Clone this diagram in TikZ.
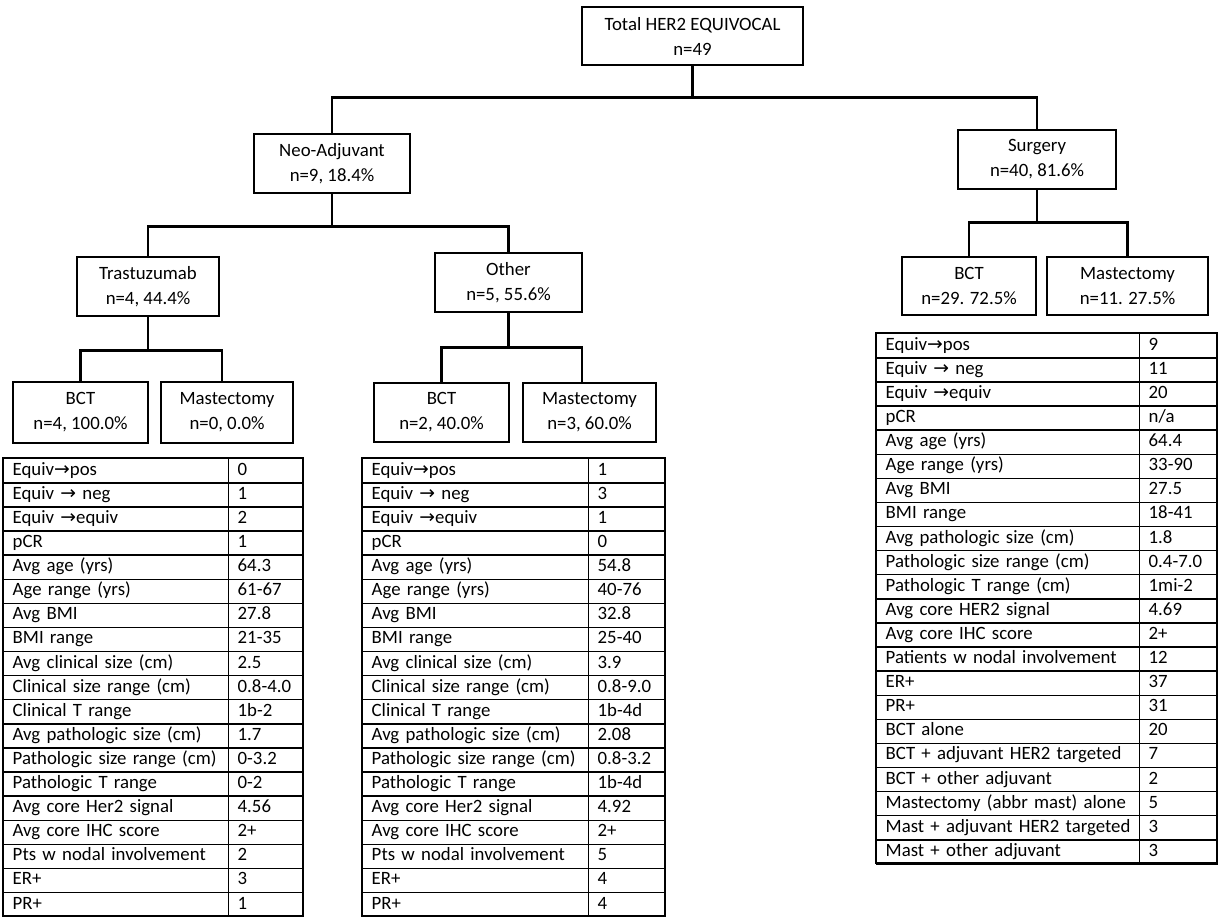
\documentclass[tikz,border=0pt]{standalone}
\usepackage{fontspec}
\setmainfont{Carlito}
\newfontfamily\arrowfont{DejaVu Sans}
\newcommand\arr{{\arrowfont →}}

% one data table: name, left x, divider x, right x, top y, number of rows, rows
\newcommand\datatable[7]{%
  \pgfmathsetmacro\wa{#3-#2-18}%
  \pgfmathsetmacro\wb{#4-#3-18}%
  \foreach \lab/\val [count=\i] in {#7}{%
    \node[cell, text width=\wa pt] (#1-\i-a) at (#2, {#5+(\i-1)*24.1}) {\lab};
    \node[cell, text width=\wb pt] (#1-\i-b) at (#3, {#5+(\i-1)*24.1}) {\val};
  }
  \draw[line width=2pt] (#2,#5) rectangle (#4, {#5+#6*24.1});
}

\begin{document}
\begin{tikzpicture}[x=1pt,y=-1pt,
  font=\fontsize{18.8}{25}\selectfont,
  box/.style={draw, line width=1.5pt, align=center, inner sep=0pt},
  conn/.style={line width=2.6pt},
  cell/.style={draw, line width=1.4pt, anchor=north west, minimum height=24.1pt,
    inner xsep=9pt, inner ysep=0pt, text height=13pt, text depth=4pt, align=left}]
\useasboundingbox (0,0) rectangle (1225,918);

% tree boxes
\node[box, minimum width=221pt, minimum height=58pt] (total) at (692.5,36) {Total HER2 EQUIVOCAL\\n=49};
\node[box, minimum width=156pt, minimum height=59pt] (neo) at (332,163.5) {Neo-Adjuvant\\n=9, 18.4\%};
\node[box, minimum width=158pt, minimum height=59pt] (surg) at (1037,159.5) {Surgery\\n=40, 81.6\%};
\node[box, minimum width=142pt, minimum height=59pt] (trast) at (148,286.5) {Trastuzumab\\n=4, 44.4\%};
\node[box, minimum width=147pt, minimum height=59pt] (other) at (508.5,282.5) {Other\\n=5, 55.6\%};
\node[box, minimum width=135pt, minimum height=61pt] (lbct) at (80.5,412.5) {BCT\\n=4, 100.0\%};
\node[box, minimum width=132pt, minimum height=61pt] (lmast) at (227,412.5) {Mastectomy\\n=0, 0.0\%};
\node[box, minimum width=135pt, minimum height=59pt] (cbct) at (441.5,412.5) {BCT\\n=2, 40.0\%};
\node[box, minimum width=133pt, minimum height=59pt] (cmast) at (589.5,412.5) {Mastectomy\\n=3, 60.0\%};
\node[box, minimum width=134pt, minimum height=58pt] (sbct) at (969,286) {BCT\\n=29. 72.5\%};
\node[box, minimum width=161pt, minimum height=58pt] (smast) at (1127.5,286) {Mastectomy\\n=11. 27.5\%};

% connectors
\draw[conn] (total.south) -- ++(0,32) coordinate (tbus) -| (neo.north);
\draw[conn] (tbus) -| (surg.north);
\draw[conn] (neo.south) -- ++(0,33) coordinate (nbus) -| (trast.north);
\draw[conn] (nbus) -| (other.north);
\draw[conn] (trast.south) -- ++(0,34) coordinate (trbus) -| (lbct.north);
\draw[conn] (trbus) -| ([xshift=-5pt]lmast.north);
\draw[conn] (other.south) -- ++(0,35) coordinate (obus) -| (cbct.north);
\draw[conn] (obus) -| ([xshift=-7.5pt]cmast.north);
\draw[conn] (surg.south) -- ++(0,33) coordinate (sbus) -| (sbct.north);
\draw[conn] (sbus) -| (smast.north);

% data tables
\datatable{lt}{3}{228}{303}{458}{19}{Equiv\arr pos/0, Equiv \arr{} neg/1, Equiv \arr equiv/2, pCR/1,
  Avg age (yrs)/64.3, Age range (yrs)/61-67, Avg BMI/27.8, BMI range/21-35,
  Avg clinical size (cm)/2.5, Clinical size range (cm)/0.8-4.0, Clinical T range/1b-2,
  Avg pathologic size (cm)/1.7, Pathologic size range (cm)/0-3.2, Pathologic T range/0-2,
  Avg core Her2 signal/4.56, Avg core IHC score/2+, Pts w nodal involvement/2, ER+/3, PR+/1}
\datatable{ct}{362}{588}{665}{458}{19}{Equiv\arr pos/1, Equiv \arr{} neg/3, Equiv \arr equiv/1, pCR/0,
  Avg age (yrs)/54.8, Age range (yrs)/40-76, Avg BMI/32.8, BMI range/25-40,
  Avg clinical size (cm)/3.9, Clinical size range (cm)/0.8-9.0, Clinical T range/1b-4d,
  Avg pathologic size (cm)/2.08, Pathologic size range (cm)/0.8-3.2, Pathologic T range/1b-4d,
  Avg core Her2 signal/4.92, Avg core IHC score/2+, Pts w nodal involvement/5, ER+/4, PR+/4}
\datatable{rt}{876}{1139}{1217}{333}{22}{Equiv\arr pos/9, Equiv \arr{} neg/11, Equiv \arr equiv/20, pCR/{n/a},
  Avg age (yrs)/64.4, Age range (yrs)/33-90, Avg BMI/27.5, BMI range/18-41,
  Avg pathologic size (cm)/1.8, Pathologic size range (cm)/0.4-7.0, Pathologic T range (cm)/1mi-2,
  Avg core HER2 signal/4.69, Avg core IHC score/2+, Patients w nodal involvement/12, ER+/37, PR+/31,
  BCT alone/20, BCT + adjuvant HER2 targeted/7, BCT + other adjuvant/2,
  Mastectomy (abbr mast) alone/5, Mast + adjuvant HER2 targeted/3, Mast + other adjuvant/3}
\end{tikzpicture}
\end{document}
